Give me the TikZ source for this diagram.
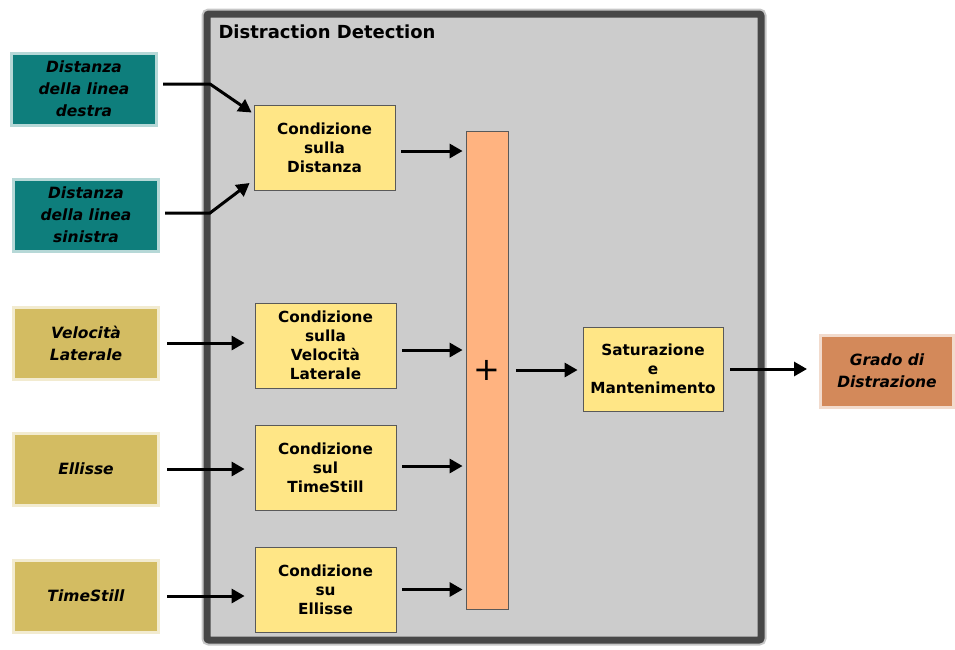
\documentclass[tikz,border=0pt]{standalone}
\usepackage{fontspec}
\setmainfont{DejaVu Sans}
\usetikzlibrary{arrows.meta}

\definecolor{tealin}{HTML}{0E7E7C}
\definecolor{olivein}{HTML}{D3BC62}
\definecolor{outcol}{HTML}{D3895A}
\definecolor{condfill}{HTML}{FFE686}
\definecolor{sumfill}{HTML}{FFB380}
\definecolor{panelfill}{HTML}{CCCCCC}
\definecolor{panelline}{HTML}{474747}

\begin{document}
\begin{tikzpicture}[
      x=1pt, y=-1pt,
      panel/.style={fill=panelfill, draw=panelline, line width=7pt, rounded corners=2pt, inner sep=0pt,
        preaction={draw=panelline, draw opacity=0.3, line width=11pt}},
      in node/.style={fill=#1, draw=#1, draw opacity=0.3, line width=6pt, align=center, inner sep=0pt,
        minimum width=142pt, minimum height=69pt, font=\fontsize{15.5}{22}\selectfont\bfseries\itshape},
      cond node/.style={draw=black!65, fill=condfill, line width=0.8pt, align=center, inner sep=0pt,
        minimum width=141pt, minimum height=85pt, font=\fontsize{15.3}{19}\selectfont\bfseries},
      sum node/.style={draw=black!65, fill=sumfill, line width=0.8pt, inner sep=0pt,
        minimum width=42pt, minimum height=478pt, font=\fontsize{32}{32}\selectfont},
      arr/.style={-{Triangle[length=13pt,width=14pt]}, line width=3pt}
    ]
    \useasboundingbox (0,0) rectangle (955,649);

    % Panel
    \node (panel) [panel, minimum width=554pt, minimum height=626pt] at (484,327) {};
    \node (title) [anchor=west, font=\fontsize{18}{21}\selectfont\bfseries] at (215,32) {Distraction Detection};

    % Inputs
    \node (dxline) [in node=tealin] at (84,89) {Distanza\\della linea\\destra};
    \node (sxline) [in node=tealin] at (86,215) {Distanza\\della linea\\sinistra};
    \node (vlat) [in node=olivein] at (86,343) {Velocità\\Laterale};
    \node (ellin) [in node=olivein] at (86,469) {Ellisse};
    \node (tsin) [in node=olivein] at (86,596) {TimeStill};

    % Conditions
    \node (cdist) [cond node] at (324.5,147.5) {Condizione\\sulla\\Distanza};
    \node (cvel) [cond node] at (325.5,345.5) {Condizione\\sulla\\Velocità\\Laterale};
    \node (cts) [cond node] at (325.5,467.5) {Condizione\\sul\\TimeStill};
    \node (cell) [cond node] at (325.5,589.5) {Condizione\\su\\Ellisse};

    % Sum, saturation and output
    \node (sum) [sum node] at (487,370) {+};
    \node (sat) [cond node, minimum width=140pt, minimum height=84pt] at (653,369) {Saturazione\\e\\Mantenimento};
    \node (grado) [in node=outcol, minimum width=130pt] at (887,371) {Grado di\\Distrazione};

    % Distance inputs
    \coordinate (kdx) at (210,84);
    \coordinate (ksx) at (210,213);
    \draw[arr, shorten <=5pt] (dxline.east |- kdx) -- (kdx) -- ([shift={(-2,-35)}]cdist.west);
    \draw[arr, shorten <=5pt] (sxline.east |- ksx) -- (ksx) -- ([shift={(-4,35.5)}]cdist.west);

    % Other inputs
    \draw[arr, shorten <=7pt, shorten >=10pt] (vlat.east) -- (vlat.east -| cvel.west);
    \draw[arr, shorten <=7pt, shorten >=10pt] (ellin.east) -- (ellin.east -| cts.west);
    \draw[arr, shorten <=7pt, shorten >=10pt] (tsin.east) -- (tsin.east -| cell.west);

    % Conditions into the sum
    \draw[arr, shorten <=6pt, shorten >=3pt] ([yshift=-3.5pt]cdist.east) -- ([yshift=-3.5pt]cdist.east -| sum.west);
    \draw[arr, shorten <=6pt, shorten >=3pt] ([yshift=-4.5pt]cvel.east) -- ([yshift=-4.5pt]cvel.east -| sum.west);
    \draw[arr, shorten <=6pt, shorten >=3pt] ([yshift=1.5pt]cts.east) -- ([yshift=1.5pt]cts.east -| sum.west);
    \draw[arr, shorten <=6pt, shorten >=3pt] (cell.east) -- (cell.east -| sum.west);

    % Output chain
    \draw[arr, shorten <=8pt, shorten >=5pt] (sum.east) -- (sum.east -| sat.west);
    \draw[arr, shorten <=7pt, shorten >=12pt] (sat.east) -- (sat.east -| grado.west);
  \end{tikzpicture}
\end{document}
